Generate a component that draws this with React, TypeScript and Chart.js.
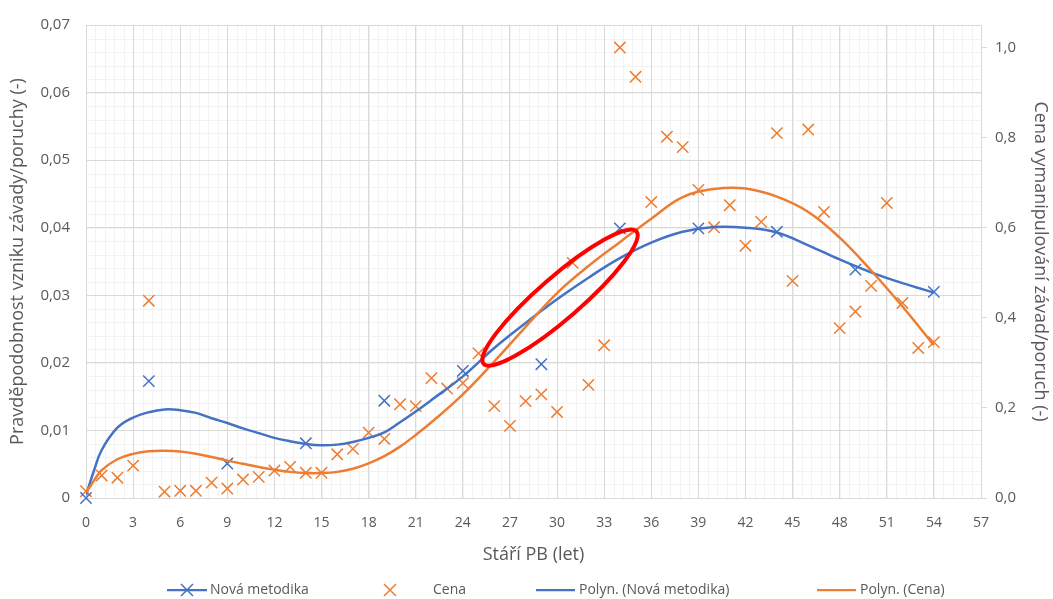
import React, { useEffect, useRef } from "react";
import { Chart, registerables } from "chart.js";

Chart.register(...registerables);

const FONT = "'Open Sans', 'Noto Sans', sans-serif";
const TEXT = "#595959";
const BLUE = "#4472C4";
const ORANGE = "#ED7D31";
const GRID_MAJOR = "#d9d9d9";
const GRID_MINOR = "#f2f2f2";

// ---- data ----
const novaAge = [0, 4, 9, 14, 19, 24, 29, 34, 39, 44, 49, 54];
const novaProb = [0, 0.0173, 0.0051, 0.0081, 0.0144, 0.0188, 0.0198, 0.0399, 0.0399, 0.0394, 0.0338, 0.0305];

const cenaAge = [
  0, 1, 2, 3, 4, 5, 6, 7, 8, 9,
  10, 11, 12, 13, 14, 15, 16, 17, 18, 19,
  20, 21, 22, 23, 24, 25, 26, 27, 28, 29,
  30, 31, 32, 33, 34, 35, 36, 37, 38, 39,
  40, 41, 42, 43, 44, 45, 46, 47, 48, 49,
  50, 51, 52, 53, 54,
];
const cenaValue = [
  0.015, 0.05, 0.045, 0.072, 0.438, 0.014, 0.016, 0.016, 0.034, 0.021,
  0.041, 0.047, 0.061, 0.069, 0.056, 0.056, 0.097, 0.109, 0.145, 0.131,
  0.208, 0.204, 0.266, 0.243, 0.255, 0.321, 0.204, 0.16, 0.215, 0.23,
  0.191, 0.522, 0.251, 0.339, 1.0, 0.935, 0.657, 0.802, 0.779, 0.684,
  0.601, 0.65, 0.56, 0.613, 0.81, 0.482, 0.818, 0.635, 0.377, 0.414,
  0.471, 0.655, 0.433, 0.333, 0.346,
];

const trendNovaAge = [
  0, 0.5, 1, 2, 3, 4, 5, 6, 7, 8, 9, 10, 11, 12, 13, 14, 15, 16, 17, 18, 19, 20, 21, 22,
  24, 26, 28, 30, 32, 34, 36, 38, 40, 42, 44, 46, 48, 50, 52, 54,
];
const trendNovaValue = [
  0.0004, 0.004, 0.0071, 0.0104, 0.0119, 0.0127, 0.0131, 0.013, 0.0126, 0.0118, 0.0111, 0.0103, 0.0096,
  0.0089, 0.0084, 0.008, 0.0078, 0.0079, 0.0083, 0.0089, 0.0097, 0.0112, 0.0128, 0.0145,
  0.018, 0.0222, 0.0259, 0.0294, 0.0326, 0.0355, 0.0378, 0.0394, 0.0401, 0.04, 0.0393, 0.0374,
  0.0353, 0.0334, 0.0318, 0.0304,
];

const trendCenaAge = [
  0, 0.5, 1, 2, 3, 4, 5, 6, 7, 8, 9, 10, 11, 12, 13, 14, 15, 16, 17, 18, 19, 20, 21, 22,
  24, 26, 28, 30, 32, 34, 36, 38, 40, 42, 44, 46, 48, 50, 52, 54,
];
const trendCenaValue = [
  0.012, 0.038, 0.062, 0.086, 0.098, 0.104, 0.105, 0.103, 0.098, 0.091, 0.083, 0.076, 0.069,
  0.063, 0.058, 0.0555, 0.0555, 0.058, 0.065, 0.077, 0.093, 0.114, 0.14, 0.168,
  0.23, 0.303, 0.38, 0.455, 0.515, 0.568, 0.62, 0.668, 0.686, 0.687, 0.669, 0.635,
  0.578, 0.505, 0.425, 0.339,
];

const xTicks = [0, 3, 6, 9, 12, 15, 18, 21, 24, 27, 30, 33, 36, 39, 42, 45, 48, 51, 54, 57];
const yLeftTicks = [0, 0.01, 0.02, 0.03, 0.04, 0.05, 0.06, 0.07];
const yRightTicks = [0, 0.2, 0.4, 0.6, 0.8, 1.0];
const xMinorStep = 0.6;
const yMinorStep = 0.002;

const legendLabels = ["Nová metodika", "Cena", "Polyn. (Nová metodika)", "Polyn. (Cena)"];

// annotation ellipse (data coordinates of centre and tip of major axis)
const ellipseCenter = [30.19, 0.02966];
const ellipseTip = [35.06, 0.03945];
const ellipseMinorPx = 21;

const xTitle = "Stáří PB (let)";
const yLeftTitle = "Pravděpodobnost vzniku závady/poruchy (-)";
const yRightTitle = "Cena vymanipulování závad/poruch (-)";

function drawX(ctx: CanvasRenderingContext2D, x: number, y: number, half: number, color: string, w: number) {
  ctx.save();
  ctx.strokeStyle = color;
  ctx.lineWidth = w;
  ctx.beginPath();
  ctx.moveTo(x - half, y - half);
  ctx.lineTo(x + half, y + half);
  ctx.moveTo(x + half, y - half);
  ctx.lineTo(x - half, y + half);
  ctx.stroke();
  ctx.restore();
}

const minorGridPlugin = {
  id: "minorGrid",
  beforeDraw(chart: any) {
    const { ctx, chartArea } = chart;
    const xs = chart.scales.x;
    const ys = chart.scales.y;
    ctx.save();
    ctx.strokeStyle = GRID_MINOR;
    ctx.lineWidth = 1;
    ctx.beginPath();
    const nx = Math.round((xs.max - xs.min) / xMinorStep);
    for (let k = 0; k <= nx; k++) {
      const px = Math.round(xs.getPixelForValue(xs.min + k * xMinorStep)) + 0.5;
      ctx.moveTo(px, chartArea.top);
      ctx.lineTo(px, chartArea.bottom);
    }
    const ny = Math.round((ys.max - ys.min) / yMinorStep);
    for (let k = 0; k <= ny; k++) {
      const py = Math.round(ys.getPixelForValue(ys.min + k * yMinorStep)) + 0.5;
      ctx.moveTo(chartArea.left, py);
      ctx.lineTo(chartArea.right, py);
    }
    ctx.stroke();
    ctx.restore();
  },
};

const ellipsePlugin = {
  id: "ellipseMark",
  afterDatasetsDraw(chart: any) {
    const { ctx } = chart;
    const xs = chart.scales.x;
    const ys = chart.scales.y;
    const cx = xs.getPixelForValue(ellipseCenter[0]);
    const cy = ys.getPixelForValue(ellipseCenter[1]);
    const tx = xs.getPixelForValue(ellipseTip[0]);
    const ty = ys.getPixelForValue(ellipseTip[1]);
    const a = Math.hypot(tx - cx, ty - cy);
    const ang = Math.atan2(ty - cy, tx - cx);
    ctx.save();
    ctx.beginPath();
    ctx.ellipse(cx, cy, a, ellipseMinorPx, ang, 0, Math.PI * 2);
    ctx.strokeStyle = "#FF0000";
    ctx.lineWidth = 4;
    ctx.stroke();
    ctx.restore();
  },
};

const legendPlugin = {
  id: "customLegend",
  afterDraw(chart: any) {
    const { ctx } = chart;
    const y = 590;
    ctx.save();
    ctx.font = `14px ${FONT}`;
    ctx.fillStyle = TEXT;
    ctx.textBaseline = "middle";
    ctx.textAlign = "left";
    // item 1: line + marker
    ctx.strokeStyle = BLUE;
    ctx.lineWidth = 2.25;
    ctx.beginPath();
    ctx.moveTo(167, y);
    ctx.lineTo(207, y);
    ctx.stroke();
    drawX(ctx, 187, y, 6, BLUE, 1.5);
    ctx.fillText(legendLabels[0], 210, y);
    // item 2: marker only
    drawX(ctx, 390, y, 6, ORANGE, 1.5);
    ctx.fillText(legendLabels[1], 433, y);
    // item 3
    ctx.strokeStyle = BLUE;
    ctx.lineWidth = 2.25;
    ctx.beginPath();
    ctx.moveTo(536, y);
    ctx.lineTo(575, y);
    ctx.stroke();
    ctx.fillText(legendLabels[2], 579, y);
    // item 4
    ctx.strokeStyle = ORANGE;
    ctx.beginPath();
    ctx.moveTo(817, y);
    ctx.lineTo(856, y);
    ctx.stroke();
    ctx.fillText(legendLabels[3], 860, y);
    ctx.restore();
  },
};

const toPts = (xs: number[], ys: number[]) => xs.map((x, i) => ({ x, y: ys[i] }));
const fmtComma = (v: number, d: number) => v.toFixed(d).replace(".", ",");

export default function App() {
  const ref = useRef<HTMLCanvasElement | null>(null);

  useEffect(() => {
    if (!ref.current) return;
    const chart = new Chart(ref.current, {
      type: "scatter",
      data: {
        datasets: [
          {
            label: legendLabels[0],
            data: toPts(novaAge, novaProb),
            yAxisID: "y",
            showLine: false,
            pointStyle: "crossRot",
            pointRadius: 8,
            pointBorderWidth: 1.5,
            borderColor: BLUE,
            backgroundColor: BLUE,
            clip: false as any,
            order: 2,
          },
          {
            label: legendLabels[1],
            data: toPts(cenaAge, cenaValue),
            yAxisID: "y1",
            showLine: false,
            pointStyle: "crossRot",
            pointRadius: 8,
            pointBorderWidth: 1.5,
            borderColor: ORANGE,
            backgroundColor: ORANGE,
            clip: false as any,
            order: 3,
          },
          {
            label: legendLabels[2],
            data: toPts(trendNovaAge, trendNovaValue),
            yAxisID: "y",
            showLine: true,
            pointRadius: 0,
            borderColor: BLUE,
            borderWidth: 2.5,
            tension: 0.4,
            order: 1,
          } as any,
          {
            label: legendLabels[3],
            data: toPts(trendCenaAge, trendCenaValue),
            yAxisID: "y1",
            showLine: true,
            pointRadius: 0,
            borderColor: ORANGE,
            borderWidth: 2.5,
            tension: 0.4,
            order: 0,
          } as any,
        ],
      },
      options: {
        animation: false,
        responsive: true,
        maintainAspectRatio: false,
        layout: { padding: { top: 19, bottom: 31, left: 0, right: 0 } },
        plugins: {
          legend: { display: false },
          tooltip: { enabled: false },
        },
        scales: {
          x: {
            type: "linear",
            position: "bottom",
            min: 0,
            max: 57,
            afterBuildTicks: (s: any) => {
              s.ticks = xTicks.map((v) => ({ value: v }));
            },
            afterFit: (s: any) => {
              s.height = 70;
            },
            ticks: {
              autoSkip: false,
              maxRotation: 0,
              padding: 17,
              color: TEXT,
              font: { family: FONT, size: 14 },
              callback: (v: any) => String(v),
            },
            grid: { color: GRID_MAJOR, drawTicks: false },
            border: { color: GRID_MAJOR },
            title: {
              display: true,
              text: xTitle,
              color: TEXT,
              font: { family: FONT, size: 18 },
              padding: { top: 0, bottom: 2 },
            },
          },
          y: {
            type: "linear",
            position: "left",
            min: 0,
            max: 0.07,
            afterBuildTicks: (s: any) => {
              s.ticks = yLeftTicks.map((v) => ({ value: v }));
            },
            afterFit: (s: any) => {
              s.width = 86;
            },
            ticks: {
              padding: 16,
              color: TEXT,
              font: { family: FONT, size: 15 },
              callback: (v: any) => (Number(v) === 0 ? "0" : fmtComma(Number(v), 2)),
            },
            grid: { color: GRID_MAJOR, drawTicks: false },
            border: { color: GRID_MAJOR },
            title: {
              display: true,
              text: yLeftTitle,
              color: TEXT,
              font: { family: FONT, size: 18 },
              padding: { top: 7, bottom: 0 },
            },
          },
          y1: {
            type: "linear",
            position: "right",
            min: 0,
            max: 1.05,
            afterBuildTicks: (s: any) => {
              s.ticks = yRightTicks.map((v) => ({ value: v }));
            },
            afterFit: (s: any) => {
              s.width = 72;
            },
            ticks: {
              padding: 8,
              color: TEXT,
              font: { family: FONT, size: 15 },
              callback: (v: any) => fmtComma(Number(v), 1),
            },
            grid: { drawOnChartArea: false, drawTicks: true, tickLength: 6, color: GRID_MAJOR },
            border: { color: GRID_MAJOR },
            title: {
              display: true,
              text: yRightTitle,
              color: TEXT,
              font: { family: FONT, size: 18 },
              padding: { top: 2, bottom: 0 },
            },
          },
        },
      } as any,
      plugins: [minorGridPlugin, ellipsePlugin, legendPlugin],
    });
    return () => chart.destroy();
  }, []);

  return (
    <div style={{ position: "fixed", left: 0, top: 0, width: 1053, height: 599, background: "#fff" }}>
      <canvas ref={ref} />
    </div>
  );
}
